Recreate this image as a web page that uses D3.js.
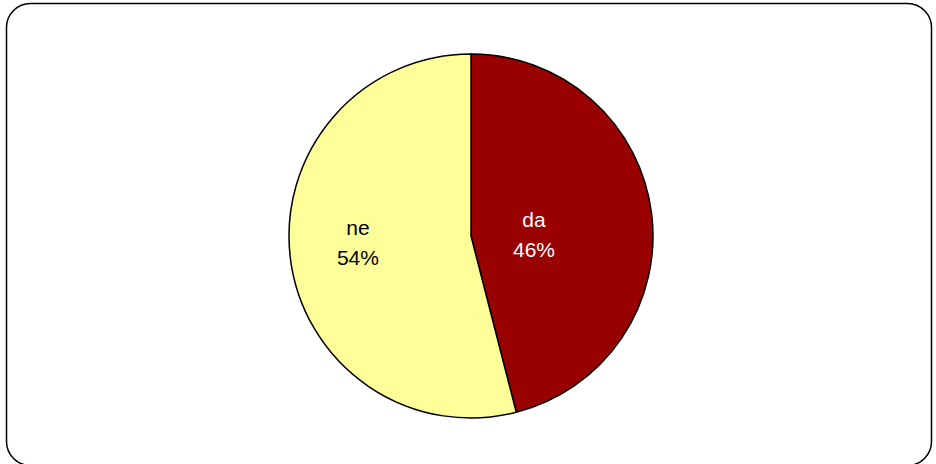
<!DOCTYPE html>
<html><head><meta charset="utf-8">
<script src="https://cdn.jsdelivr.net/npm/d3@7"></script>
<style>html,body{margin:0;padding:0;background:#fff;}svg{display:block;}</style>
</head><body>
<script>
const categories = ["da", "ne"];
const values = [46, 54];
const colors = ["#990000", "#FFFF99"];
const textColors = ["#ffffff", "#000000"];

const W = 936, H = 464;
const svg = d3.select("body").append("svg").attr("width", W).attr("height", H);
svg.append("rect").attr("x", 6.5).attr("y", 3.5).attr("width", 925).attr("height", 462)
  .attr("rx", 24).attr("ry", 24).attr("fill", "#fff").attr("stroke", "#000").attr("stroke-width", 1.5);

const cx = 471, cy = 236, R = 182;
const data = categories.map((c, i) => ({cat: c, value: values[i], i}));
const pie = d3.pie().value(d => d.value).sort(null);
const arcs = pie(data);
const arc = d3.arc().innerRadius(0).outerRadius(R);
const g = svg.append("g").attr("transform", `translate(${cx},${cy})`);
g.selectAll("path").data(arcs).join("path")
  .attr("d", arc).attr("fill", d => colors[d.data.i])
  .attr("stroke", "#000").attr("stroke-width", 1.5).attr("stroke-linejoin", "round");

const labelR = [63.5, 114];
const dyAdj = [14, 0];
const total = d3.sum(values);
arcs.forEach(a => {
  const i = a.data.i;
  const mid = (a.startAngle + a.endAngle) / 2;
  const x = labelR[i] * Math.sin(mid);
  const y = -labelR[i] * Math.cos(mid) + dyAdj[i];
  const t = g.append("text").attr("text-anchor", "middle")
    .attr("font-family", "Liberation Sans, Arial, sans-serif").attr("font-size", 21)
    .attr("fill", textColors[i]);
  t.append("tspan").attr("x", x).attr("y", y - 15).text(a.data.cat);
  t.append("tspan").attr("x", x).attr("y", y + 14.5).text(Math.round(a.data.value / total * 100) + "%");
});
</script>
</body></html>
